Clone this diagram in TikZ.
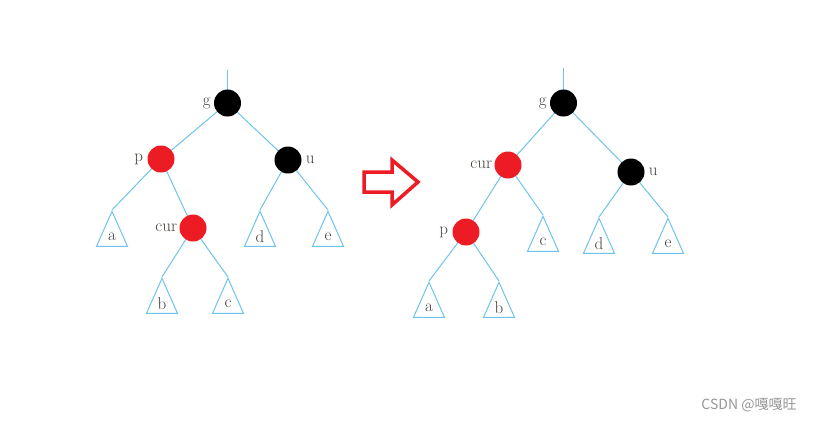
\documentclass[tikz,border=0pt]{standalone}
\usepackage{fontspec}
\newfontfamily\cjkfont{Noto Sans CJK SC}
\definecolor{edgeblue}{RGB}{110, 195, 235}
\definecolor{nodered}{RGB}{237, 28, 36}
\definecolor{lblgray}{RGB}{70, 65, 60}
\definecolor{markgray}{RGB}{150, 150, 150}
\usetikzlibrary{positioning, shapes.geometric, backgrounds}

\begin{document}
\begin{tikzpicture}[x=1pt, y=-1pt,
    rbnode/.style={circle, minimum size=27pt, inner sep=0pt},
    rednode/.style={rbnode, fill=nodered},
    blacknode/.style={rbnode, fill=black},
    lbl/.style={text=lblgray, font=\fontsize{17}{17}\selectfont, inner sep=1pt},
    subtree/.style={isosceles triangle, isosceles triangle stretches,
                shape border rotate=90, minimum width=31pt, minimum height=35pt,
                inner sep=0pt, draw=edgeblue, fill=white, line width=1pt,
                anchor=apex},
    edge/.style={draw=edgeblue, line width=1pt},
  ]
    \useasboundingbox (0,0) rectangle (815,421);

    %% left tree: before rotation
    \node[blacknode] (g1) at (227.5,103) {};
    \node[rednode]   (p1) at (161,159) {};
    \node[blacknode] (u1) at (288,160) {};
    \node[rednode]   (c1) at (193,228) {};
    \coordinate (top1) at (227.5,70);

    \node[lbl, left=2pt of g1] (g1lbl) {g};
    \node[lbl, left=3pt of p1] (p1lbl) {p};
    \node[lbl, right=3pt of u1] (u1lbl) {u};
    \node[lbl, left=1pt of c1] (c1lbl) {cur};

    \node[subtree] (ta1) at (112,210) {};
    \node[subtree] (td1) at (260,210) {};
    \node[subtree] (te1) at (328,210) {};
    \node[subtree] (tb1) at (162,277) {};
    \node[subtree] (tc1) at (228,277) {};

    \node[lbl] (a1lbl) at ([yshift=10pt]ta1.south) {a};
    \node[lbl] (d1lbl) at ([yshift=10pt]td1.south) {d};
    \node[lbl] (e1lbl) at ([yshift=10pt]te1.south) {e};
    \node[lbl] (b1lbl) at ([yshift=10pt]tb1.south) {b};
    \node[lbl] (c1tlbl) at ([yshift=10pt]tc1.south) {c};

    \begin{scope}[on background layer]
      \draw[edge] (top1) -- (g1.center);
      \draw[edge] (g1.center) -- (p1.center);
      \draw[edge] (g1.center) -- (u1.center);
      \draw[edge] (p1.center) -- (ta1.apex);
      \draw[edge] (p1.center) -- (c1.center);
      \draw[edge] (c1.center) -- (tb1.apex);
      \draw[edge] (c1.center) -- (tc1.apex);
      \draw[edge] (u1.center) -- (td1.apex);
      \draw[edge] (u1.center) -- (te1.apex);
    \end{scope}

    % hollow red arrow
    \draw[nodered, line width=3.5pt, fill=white, line join=miter]
      (364,172) -- (392,172) -- (392,160) -- (418,182)
      -- (392,205) -- (392,192) -- (364,192) -- cycle;

    %% right tree: after rotation
    \node[blacknode] (g2) at (563.5,103) {};
    \node[rednode]   (c2) at (508,165) {};
    \node[blacknode] (u2) at (631,172) {};
    \node[rednode]   (p2) at (466,232) {};
    \coordinate (top2) at (563.5,68);

    \node[lbl, left=2pt of g2] (g2lbl) {g};
    \node[lbl, left=1pt of c2] (c2lbl) {cur};
    \node[lbl, right=3pt of u2] (u2lbl) {u};
    \node[lbl, left=3pt of p2] (p2lbl) {p};

    \node[subtree] (tc2) at (543,215) {};
    \node[subtree] (td2) at (599,217) {};
    \node[subtree] (te2) at (668,217) {};
    \node[subtree] (ta2) at (429,281) {};
    \node[subtree] (tb2) at (499,281) {};

    \node[lbl] (c2tlbl) at ([yshift=10pt]tc2.south) {c};
    \node[lbl] (d2lbl) at ([yshift=10pt]td2.south) {d};
    \node[lbl] (e2lbl) at ([yshift=10pt]te2.south) {e};
    \node[lbl] (a2lbl) at ([yshift=10pt]ta2.south) {a};
    \node[lbl] (b2lbl) at ([yshift=10pt]tb2.south) {b};

    \begin{scope}[on background layer]
      \draw[edge] (top2) -- (g2.center);
      \draw[edge] (g2.center) -- (c2.center);
      \draw[edge] (g2.center) -- (u2.center);
      \draw[edge] (c2.center) -- (p2.center);
      \draw[edge] (c2.center) -- (tc2.apex);
      \draw[edge] (p2.center) -- (ta2.apex);
      \draw[edge] (p2.center) -- (tb2.apex);
      \draw[edge] (u2.center) -- (td2.apex);
      \draw[edge] (u2.center) -- (te2.apex);
    \end{scope}

    \node[text=markgray, font=\cjkfont\fontsize{14}{14}\selectfont]
      (mark) at (749,405) {CSDN @嘎嘎旺};
\end{tikzpicture}
\end{document}
